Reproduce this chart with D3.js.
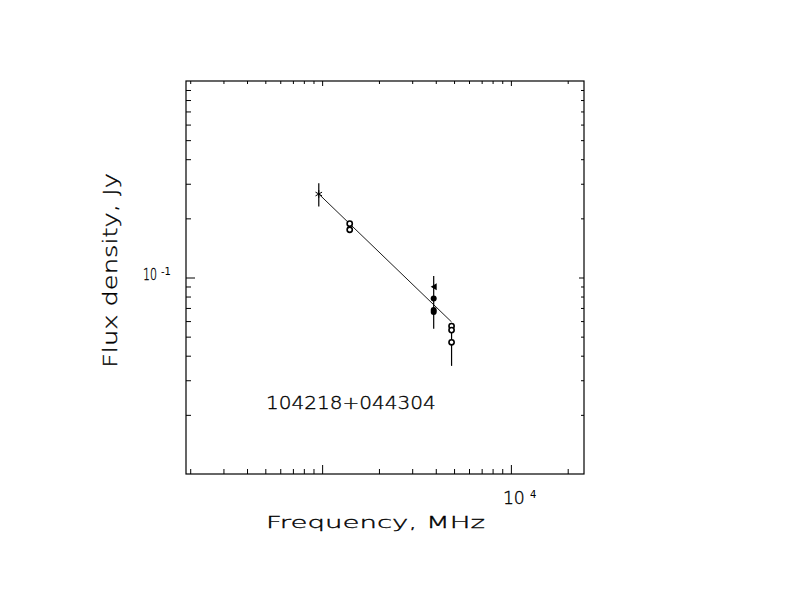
<!DOCTYPE html>
<html>
<head>
<meta charset="utf-8">
<script src="https://cdn.jsdelivr.net/npm/d3@7"></script>
<style>
  html, body { margin: 0; padding: 0; background: #fff; }
  text { font-family: "DejaVu Sans", sans-serif; fill: #000; }
</style>
</head>
<body>
<svg id="chart" width="792" height="612"></svg>
<script>
// ---- Data ----
const freqs   = [960, 1400, 1400, 3900, 3900, 3900, 3900, 4850, 4850, 4850];
const fluxes  = [0.266, 0.188, 0.175, 0.0898, 0.0783, 0.0683, 0.0667, 0.0566, 0.0540, 0.0468];
const errors  = [0.036, 0, 0, 0, 0.0235, 0, 0, 0, 0, 0.0113];
const markers = ["star", "open", "open", "tri", "filled", "filled", "filled", "open", "open", "open"];

const fitFreqs = [960, 4850];
const fitFlux  = [0.266, 0.0594];

const xDomain = [190, 24400];
const yDomain = [0.01, 1];
const xMinorTicks = [200, 300, 400, 500, 600, 700, 800, 900, 2000, 3000, 4000, 5000, 6000, 7000, 8000, 9000, 20000];
const xMajorTicks = [1000, 10000];
const yMinorTicks = [0.02, 0.03, 0.04, 0.05, 0.06, 0.07, 0.08, 0.09, 0.2, 0.3, 0.4, 0.5, 0.6, 0.7, 0.8, 0.9];
const yMajorTicks = [0.1];
const xLabelTicks = [10000];
const xLabelExps  = ["4"];
const yLabelTicks = [0.1];
const yLabelExps  = ["-1"];

const sourceName = "104218+044304";
const xTitle = "Frequency, MHz";
const yTitle = "Flux density, Jy";

// ---- Layout ----
const L = 186, R = 584, T = 81, B = 474;
const svg = d3.select("#chart");
const x = d3.scaleLog().domain(xDomain).range([L, R]);
const y = d3.scaleLog().domain(yDomain).range([B, T]);

function axis(gen, vals, size, tr) {
  const g = svg.append("g").attr("transform", tr)
    .call(gen.tickValues(vals).tickSize(size).tickSizeOuter(0).tickFormat(""));
  g.select(".domain").remove();
  g.selectAll(".tick line").attr("stroke", "#000").attr("stroke-width", 1);
  return g;
}
axis(d3.axisBottom(x), xMinorTicks, -5, `translate(0,${B})`);
axis(d3.axisBottom(x), xMajorTicks, -9, `translate(0,${B})`);
axis(d3.axisTop(x), xMinorTicks, -3, `translate(0,${T})`);
axis(d3.axisTop(x), xMajorTicks, -5, `translate(0,${T})`);
axis(d3.axisLeft(y), yMinorTicks, -5, `translate(${L},0)`);
axis(d3.axisLeft(y), yMajorTicks, -9, `translate(${L},0)`);
axis(d3.axisRight(y), yMinorTicks, -3, `translate(${R},0)`);
axis(d3.axisRight(y), yMajorTicks, -5, `translate(${R},0)`);

svg.append("rect").attr("x", L).attr("y", T).attr("width", R - L).attr("height", B - T)
  .attr("fill", "none").attr("stroke", "#000").attr("stroke-width", 1.2);

// text stretched horizontally to a target width
function wideText(str, size, targetW, tx, ty, rot) {
  const g = svg.append("g");
  const t = g.append("text").attr("font-size", size).attr("font-weight", 200)
    .attr("stroke", "#000").attr("stroke-width", 0.35).text(str);
  const w = t.node().getComputedTextLength();
  const sx = targetW / w;
  g.attr("transform", `translate(${tx},${ty}) rotate(${rot || 0}) scale(${sx},1)`);
  return g;
}

// tick labels
xLabelTicks.forEach((v, i) => {
  const cx = x(v);
  wideText("10", 17, 22, cx - 8, 504);
  svg.append("text").attr("x", cx + 19).attr("y", 498).attr("font-size", 10).text(xLabelExps[i]);
});
yLabelTicks.forEach((v, i) => {
  const cy = y(v);
  wideText("10", 15, 14, 143, cy + 2.5);
  svg.append("text").attr("x", 161).attr("y", cy - 3).attr("font-size", 10).text(yLabelExps[i]);
});

// titles
wideText(xTitle, 16.5, 219, 266, 528);
wideText(yTitle, 20, 195, 117, 368, -90);
wideText(sourceName, 18, 170, 266, 409);

// fit line
const line = d3.line().x(d => x(d[0])).y(d => y(d[1]));
svg.append("path").datum(fitFreqs.map((f, i) => [f, fitFlux[i]]))
  .attr("d", line).attr("fill", "none").attr("stroke", "#000").attr("stroke-width", 0.9);

// points
const pts = freqs.map((f, i) => ({ f, s: fluxes[i], e: errors[i], m: markers[i] }));
const g = svg.append("g");
pts.filter(d => d.e > 0).forEach(d => {
  g.append("line").attr("x1", x(d.f)).attr("x2", x(d.f))
    .attr("y1", y(d.s + d.e)).attr("y2", y(d.s - d.e))
    .attr("stroke", "#000").attr("stroke-width", 1.2);
});
pts.forEach(d => {
  const px = x(d.f), py = y(d.s);
  if (d.m === "open") {
    g.append("circle").attr("cx", px).attr("cy", py).attr("r", 2.6)
      .attr("fill", "#fff").attr("stroke", "#000").attr("stroke-width", 1.6);
  } else if (d.m === "filled") {
    g.append("circle").attr("cx", px).attr("cy", py).attr("r", 3)
      .attr("fill", "#000");
  } else if (d.m === "tri") {
    g.append("path").attr("d", `M${px - 3},${py} L${px + 3},${py - 3.5} L${px + 3},${py + 3.5} Z`)
      .attr("fill", "#000");
  } else if (d.m === "star") {
    g.append("path").attr("transform", `translate(${px},${py})`)
      .attr("d", d3.symbol(d3.symbolAsterisk, 40)())
      .attr("fill", "none").attr("stroke", "#000").attr("stroke-width", 1);
  }
});
</script>
</body>
</html>
